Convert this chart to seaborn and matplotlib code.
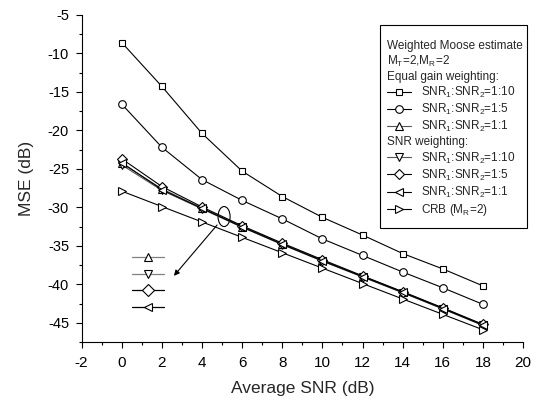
import matplotlib
matplotlib.use("Agg")
import matplotlib.pyplot as plt
from matplotlib.lines import Line2D
from matplotlib.patches import Ellipse, Rectangle
import seaborn as sns

# data
snr_db = [0, 2, 4, 6, 8, 10, 12, 14, 16, 18]

eg_1_10 = [-8.6, -14.3, -20.4, -25.3, -28.6, -31.3, -33.6, -36.0, -38.0, -40.2]
eg_1_5 = [-16.6, -22.2, -26.4, -29.1, -31.5, -34.1, -36.25, -38.4, -40.45, -42.6]
eg_1_1 = [-24.3, -27.6, -30.1, -32.5, -34.75, -36.9, -38.95, -41.0, -43.1, -45.25]
sw_1_10 = [-24.5, -27.8, -30.2, -32.6, -34.85, -37.0, -39.05, -41.1, -43.2, -45.35]
sw_1_5 = [-23.7, -27.3, -29.95, -32.4, -34.65, -36.8, -38.9, -40.95, -43.05, -45.2]
sw_1_1 = [-24.2, -27.7, -30.15, -32.55, -34.8, -36.95, -39.0, -41.05, -43.15, -45.3]
crb = [-27.9, -29.9, -31.9, -33.9, -35.9, -37.9, -39.9, -41.9, -43.9, -45.9]

labels = [
    "SNR$_1$:SNR$_2$=1:10",
    "SNR$_1$:SNR$_2$=1:5",
    "SNR$_1$:SNR$_2$=1:1",
    "SNR$_1$:SNR$_2$=1:10",
    "SNR$_1$:SNR$_2$=1:5",
    "SNR$_1$:SNR$_2$=1:1",
    "CRB (M$_R$=2)",
]
series = [eg_1_10, eg_1_5, eg_1_1, sw_1_10, sw_1_5, sw_1_1, crb]
markers = ["s", "o", "^", "v", "D", "<", ">"]
msizes = [5, 5.5, 6, 6, 5, 6, 6]
colors = ["black", "black", "#555555", "#555555", "black", "black", "black"]

headers_top = ["Weighted Moose estimate", "M$_T$=2,M$_R$=2", "Equal gain weighting:"]
header_mid = "SNR weighting:"

# zoom-in callout (ellipse + arrow + marker key)
ellipse_xy = (5.1, -31.2)
ellipse_w, ellipse_h = 0.6, 2.6
arrow_from = (4.75, -32.3)
arrow_to = (2.6, -38.9)
key_x = [0.5, 1.3, 2.1]
key_y = [-36.5, -38.7, -40.8, -42.9]
key_markers = ["^", "v", "D", "<"]
key_colors = ["#808080", "#808080", "black", "black"]

sns.set_theme(style="ticks")
plt.rcParams["font.family"] = ["Liberation Sans", "DejaVu Sans"]
plt.rcParams["mathtext.fontset"] = "custom"
plt.rcParams["mathtext.rm"] = "Liberation Sans"
plt.rcParams["mathtext.it"] = "Liberation Sans"
plt.rcParams["axes.unicode_minus"] = False

fig = plt.figure(figsize=(5.37, 4.01), dpi=100)
ax = fig.add_axes([0.152, 0.147, 0.822, 0.816])

handles = []
for vals, mk, ms, col, lab in zip(series, markers, msizes, colors, labels):
    sns.lineplot(x=snr_db, y=vals, ax=ax, color=col, lw=0.8, marker=mk,
                 markersize=ms, markerfacecolor="white", markeredgecolor="black",
                 markeredgewidth=0.8, legend=False)
    handles.append(Line2D([], [], color=col, lw=0.8, marker=mk, markersize=ms,
                          markerfacecolor="white", markeredgecolor="black",
                          markeredgewidth=0.8, label=lab))

ax.add_patch(Ellipse(ellipse_xy, ellipse_w, ellipse_h, fill=False, ec="black", lw=0.8))
ax.annotate("", xy=arrow_to, xytext=arrow_from,
            arrowprops=dict(arrowstyle="-|>", color="black", lw=0.8,
                            mutation_scale=8, shrinkA=0, shrinkB=0))
for yk, mk, col in zip(key_y, key_markers, key_colors):
    ax.plot(key_x, [yk] * len(key_x), color=col, lw=0.9, marker=mk, markevery=[1],
            markersize=6, markerfacecolor="white", markeredgecolor="black",
            markeredgewidth=0.8)

ax.set_xlim(-2, 20)
ax.set_ylim(-47.5, -5)
ax.set_xticks(range(-2, 21, 2))
ax.set_xticks(range(-2, 21, 1), minor=True)
ax.set_yticks(range(-45, -4, 5))
ax.set_yticks([-47.5 + 2.5 * i for i in range(18)], minor=True)
ax.tick_params(which="major", direction="out", length=4, width=0.8,
               color="black", labelcolor="black")
ax.tick_params(which="major", axis="y", labelsize=10.5, pad=5)
ax.tick_params(which="major", axis="x", labelsize=11, pad=6)
ax.tick_params(which="minor", direction="out", length=2, width=0.8, color="black")
ax.set_xlabel("Average SNR (dB)", fontsize=12.5, labelpad=8)
ax.set_ylabel("MSE (dB)", fontsize=12.5, labelpad=10)
for side in ["top", "right"]:
    ax.spines[side].set_visible(False)
for side in ["left", "bottom"]:
    ax.spines[side].set_color("black")
    ax.spines[side].set_linewidth(0.8)

# legend box frame drawn separately so the padding matches the original
W, H = 537, 401
fig.add_artist(Rectangle((380 / W, 1 - 228 / H), 147 / W, 203 / H,
                         transform=fig.transFigure, fill=True, fc="white",
                         ec="black", lw=0.8, zorder=4))

blank = lambda t: Line2D([], [], linestyle="none", label=t)
leg_handles = [blank(t) for t in headers_top] + handles[:3] + [blank(header_mid)] + handles[3:]
header_texts = set(headers_top + [header_mid])
leg = fig.legend(handles=leg_handles, loc="upper left",
                 bbox_to_anchor=(387 / W, 1 - 40 / H), fontsize=8.5,
                 frameon=False, handlelength=2.0, handletextpad=0.9,
                 labelspacing=0.17, borderpad=0, borderaxespad=0)
leg.set_zorder(5)
for row in leg._legend_handle_box.get_children()[0].get_children():
    h, t = row.get_children()
    if t._text.get_text() in header_texts:
        h.width = 0
        row.sep = 0

fig.savefig("out.png", dpi=100)
